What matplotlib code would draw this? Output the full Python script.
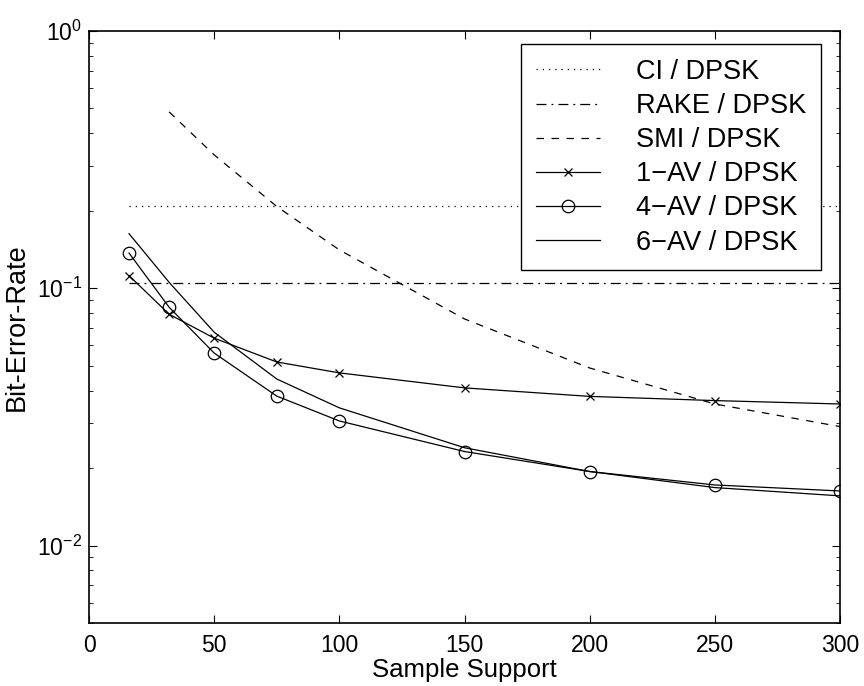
#!/usr/bin/env python3

import numpy as np
import matplotlib
matplotlib.use('Agg')
import matplotlib.pyplot as plt

plt.rcParams['font.family'] = ['Liberation Sans', 'DejaVu Sans']
plt.rcParams['mathtext.fontset'] = 'custom'
plt.rcParams['mathtext.rm'] = 'Liberation Sans'
plt.rcParams['mathtext.it'] = 'Liberation Sans'

# sample support values
n = [16, 32, 50, 75, 100, 150, 200, 250, 300]
n_smi = [32, 50, 75, 100, 150, 200, 250, 300]

# bit error rates
ber_ci = 0.208
ber_rake = 0.1045
ber_smi = [0.485, 0.33, 0.208, 0.141, 0.076, 0.049, 0.0355, 0.029]
ber_1av = [0.112, 0.0793, 0.064, 0.0517, 0.0469, 0.041, 0.038, 0.0366, 0.0355]
ber_4av = [0.137, 0.0844, 0.056, 0.0381, 0.0305, 0.0232, 0.0194, 0.0172, 0.0163]
ber_6av = [0.163, 0.1055, 0.0675, 0.0444, 0.0343, 0.024, 0.0194, 0.0168, 0.0156]

fig = plt.figure(figsize=(8.64, 6.86), dpi=100)
ax = fig.add_axes([89/864, 1-623/686, 751/864, 592/686])

lw = 0.9
ax.plot([n[0], n[-1]], [ber_ci, ber_ci], 'k', linestyle=(0, (1, 4)), lw=lw, label='CI / DPSK')
ax.plot([n[0], n[-1]], [ber_rake, ber_rake], 'k', linestyle=(0, (8, 4, 1.5, 4)), lw=lw, label='RAKE / DPSK')
ax.plot(n_smi, ber_smi, 'k', linestyle=(0, (6, 6)), lw=lw, label='SMI / DPSK')
ax.plot(n, ber_1av, 'k-', marker='x', ms=6, mew=0.9, lw=lw, label='1\u2212AV / DPSK')
ax.plot(n, ber_4av, 'k-', marker='o', ms=9, mfc='none', mew=0.9, lw=lw, label='4\u2212AV / DPSK')
ax.plot(n, ber_6av, 'k-', lw=lw, label='6\u2212AV / DPSK')

ax.set_yscale('log')
ax.set_xlim(0, 300)
ax.set_ylim(5e-3, 1)
ax.set_xticks([0, 50, 100, 150, 200, 250, 300])
ax.tick_params(which='both', direction='in', top=True, right=True, labelsize=16.5)
ax.tick_params(axis='x', pad=8)
ax.tick_params(axis='y', pad=5)
ax.tick_params(which='major', length=6)
ax.tick_params(which='minor', length=3)
for s in ax.spines.values():
    s.set_linewidth(1.2)

ax.set_xlabel('Sample Support', fontsize=18.5, labelpad=1)
ax.set_ylabel('Bit-Error-Rate', fontsize=19.5, labelpad=5)

leg = ax.legend(loc='upper right', bbox_to_anchor=(0.975, 0.978), borderaxespad=0,
                fontsize=19.5, fancybox=False, edgecolor='k', framealpha=1,
                handlelength=2.35, labelspacing=0.3, handletextpad=1.35,
                borderpad=0.55)
leg.get_frame().set_linewidth(1.0)

fig.savefig('out.png', dpi=100)
